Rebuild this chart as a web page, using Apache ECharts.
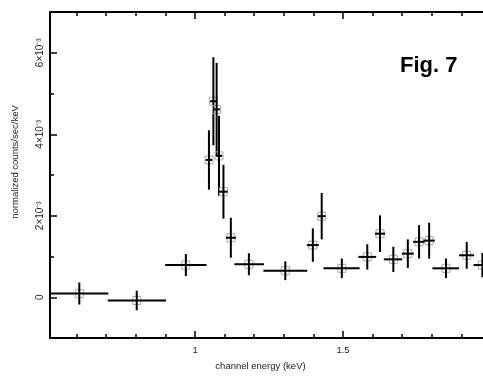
<!DOCTYPE html>
<html>
<head>
<meta charset="utf-8">
<script src="https://cdn.jsdelivr.net/npm/echarts@6/dist/echarts.min.js"></script>
<style>
  html, body { margin: 0; padding: 0; background: #fff; overflow: hidden; }
  #chart { width: 520px; height: 376px; }
</style>
</head>
<body>
<div id="chart"></div>
<script>
// bin centres and edges (keV)
const energy = [0.609, 0.803, 0.969, 1.047, 1.062, 1.073, 1.081, 1.096, 1.121, 1.182, 1.305, 1.398,
  1.428, 1.496, 1.582, 1.625, 1.670, 1.719, 1.757, 1.791, 1.848, 1.918, 1.971];
const binLow = [0.51, 0.705, 0.899, 1.036, 1.051, 1.062, 1.070, 1.081, 1.104, 1.133, 1.231, 1.378,
  1.415, 1.434, 1.552, 1.608, 1.638, 1.699, 1.737, 1.772, 1.802, 1.892, 1.941];
const binHigh = [0.707, 0.902, 1.039, 1.058, 1.073, 1.084, 1.092, 1.110, 1.138, 1.233, 1.379, 1.418,
  1.441, 1.556, 1.612, 1.642, 1.700, 1.739, 1.776, 1.810, 1.892, 1.943, 2.001];
// normalized counts/sec/keV and 1-sigma errors
const flux = [0.09e-3, -0.08e-3, 0.79e-3, 3.37e-3, 4.81e-3, 4.61e-3, 3.47e-3, 2.59e-3, 1.46e-3, 0.81e-3,
  0.65e-3, 1.28e-3, 1.99e-3, 0.71e-3, 0.99e-3, 1.56e-3, 0.93e-3, 1.07e-3, 1.36e-3, 1.39e-3, 0.71e-3,
  1.03e-3, 0.79e-3];
const fluxErr = [0.27e-3, 0.24e-3, 0.27e-3, 0.73e-3, 1.08e-3, 1.14e-3, 0.98e-3, 0.66e-3, 0.49e-3, 0.27e-3,
  0.23e-3, 0.41e-3, 0.57e-3, 0.24e-3, 0.31e-3, 0.45e-3, 0.31e-3, 0.35e-3, 0.41e-3, 0.44e-3, 0.24e-3,
  0.33e-3, 0.30e-3];

const xMajor = [1, 1.5, 2];
const xMinor = [0.6, 0.7, 0.8, 0.9, 1.1, 1.2, 1.3, 1.4, 1.6, 1.7, 1.8, 1.9];
const yMajor = [0, 2e-3, 4e-3, 6e-3];
const yMinor = [1e-3, 3e-3, 5e-3];

const font = "'Liberation Sans', Arial, sans-serif";
const chart = echarts.init(document.getElementById("chart"), null, { renderer: "canvas" });

const xBase = { type: "value", min: 0.51, max: 2.0, splitLine: { show: false }, axisLine: { show: false, onZero: false } };
const yBase = { type: "value", min: -1e-3, max: 7e-3, splitLine: { show: false }, axisLine: { show: false, onZero: false } };

function xAxisOf(pos, ticks, len, labels) {
  return Object.assign({}, xBase, {
    position: pos,
    axisTick: { show: true, inside: true, length: len, customValues: ticks, lineStyle: { color: "#000", width: 1.5 } },
    axisLabel: labels
      ? { show: true, customValues: xMajor, margin: 7, color: "#222", fontSize: 9.5, fontFamily: font,
          formatter: (v) => String(v) }
      : { show: false },
  });
}

function yAxisOf(ticks, len, labels) {
  return Object.assign({}, yBase, {
    position: "left",
    axisTick: { show: true, inside: true, length: len, customValues: ticks, lineStyle: { color: "#000", width: 1.5 } },
    axisLabel: labels
      ? { show: true, customValues: yMajor, rotate: 90, margin: 5, color: "#222", fontSize: 10, fontFamily: font,
          formatter: (v) => (Math.abs(v) < 1e-9 ? "0" : Math.round(v * 1000) + "×10⁻³") }
      : { show: false },
  });
}

const xAxes = [
  xAxisOf("bottom", xMajor, 7, true),
  xAxisOf("bottom", xMinor, 4, false),
  xAxisOf("top", xMajor, 7, false),
  xAxisOf("top", xMinor, 4, false),
];
xAxes[0].name = "channel energy (keV)";
xAxes[0].nameLocation = "middle";
xAxes[0].nameGap = 23;
xAxes[0].nameTextStyle = { color: "#222", fontSize: 9.5, fontFamily: font, padding: [0, 20, 0, 0] };

const yAxes = [yAxisOf(yMajor, 7, true), yAxisOf(yMinor, 4, false)];
yAxes[0].name = "normalized counts/sec/keV";
yAxes[0].nameLocation = "middle";
yAxes[0].nameGap = 30;
yAxes[0].nameTextStyle = { color: "#222", fontSize: 9.5, fontFamily: font, padding: [0, 0, 0, 26] };

const points = energy.map((e, i) => [e, binLow[i], binHigh[i], flux[i], fluxErr[i]]);

const option = {
  backgroundColor: "#fff",
  animation: false,
  grid: { left: 50, top: 12, right: 29, bottom: 35, show: true, borderColor: "#000", borderWidth: 2, backgroundColor: "transparent" },
  xAxis: xAxes,
  yAxis: yAxes,
  graphic: [
    { type: "text", left: 400, top: 55, style: { text: "Fig. 7", font: "bold 22px " + font, fill: "#000" } },
    { type: "text", left: -3, top: 361, style: { text: ")", font: "10px " + font, fill: "#222" } },
  ],
  series: [
    {
      type: "custom",
      xAxisIndex: 0,
      yAxisIndex: 0,
      data: points,
      renderItem: function (params, api) {
        const x = api.value(0), lo = api.value(1), hi = api.value(2), y = api.value(3), err = api.value(4);
        const a = api.coord([lo, y]);
        const b = api.coord([hi, y]);
        const c = api.coord([x, y - err]);
        const d = api.coord([x, y + err]);
        const m = api.coord([x, y]);
        const line = { stroke: "#000", lineWidth: 2 };
        return {
          type: "group",
          children: [
            { type: "rect", shape: { x: m[0] - 4, y: m[1] - 4, width: 8, height: 8 }, style: { fill: "none", stroke: "#aaa", lineWidth: 1 } },
            { type: "line", shape: { x1: a[0], y1: a[1], x2: b[0], y2: b[1] }, style: line },
            { type: "line", shape: { x1: c[0], y1: c[1], x2: d[0], y2: d[1] }, style: line },
          ],
        };
      },
    },
  ],
};

chart.setOption(option);
</script>
</body>
</html>
